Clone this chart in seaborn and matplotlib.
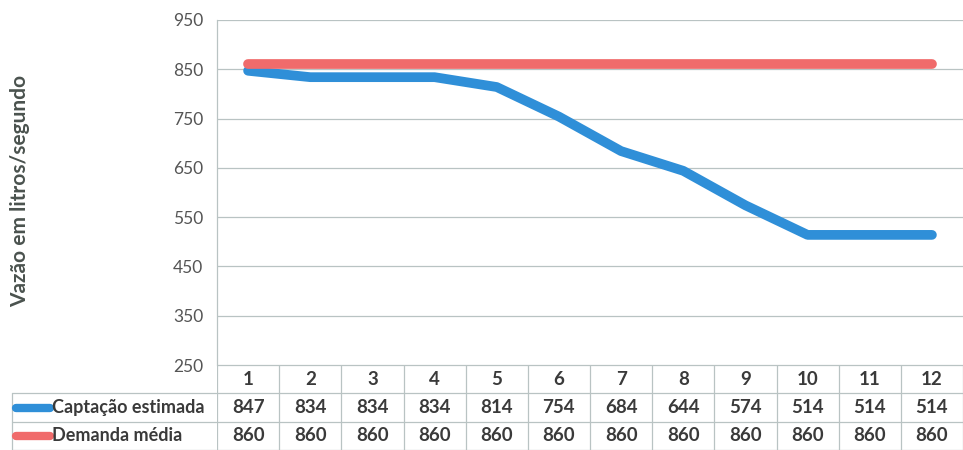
import seaborn as sns
import matplotlib.pyplot as plt
import pandas as pd

meses = [1, 2, 3, 4, 5, 6, 7, 8, 9, 10, 11, 12]
captacao = [847, 834, 834, 834, 814, 754, 684, 644, 574, 514, 514, 514]
demanda = [860, 860, 860, 860, 860, 860, 860, 860, 860, 860, 860, 860]
series_names = ['Captação estimada', 'Demanda média']
yticks = [250, 350, 450, 550, 650, 750, 850, 950]

sns.set_style('white')
plt.rcParams['font.family'] = ['Lato', 'DejaVu Sans']

blue = '#2f8fd8'
red = '#f06b6b'
grid_c = '#b9c3c3'
text_c = '#3a3a3a'

df = pd.DataFrame({'mes': meses * 2,
                   'valor': captacao + demanda,
                   'serie': [series_names[0]] * 12 + [series_names[1]] * 12})

fig = plt.figure(figsize=(9.63, 4.5), dpi=100)
ax = fig.add_axes([217 / 963, 85 / 450, 746 / 963, 345 / 450])

for y in yticks:
    ax.axhline(y, color=grid_c, lw=0.9, zorder=0)

sns.lineplot(data=df, x='mes', y='valor', hue='serie',
             palette=[blue, red], linewidth=7, legend=False, ax=ax,
             solid_capstyle='round')

ax.set_xlim(0.5, 12.5)
ax.set_ylim(250, 950)
ax.set_yticks(yticks)
ax.set_xticks([])
ax.set_xlabel('')
ax.set_ylabel('')
ax.tick_params(axis='y', length=0, labelsize=12.5, labelcolor='#555555', pad=10)
for s in ['top', 'right', 'bottom']:
    ax.spines[s].set_visible(False)
ax.spines['left'].set_color(grid_c)
ax.spines['left'].set_linewidth(0.9)

fig.text(20 / 963, 0.575, 'Vazão em litros/segundo', rotation=90,
         ha='center', va='center', fontsize=15, fontweight='bold', color='#4a524e')

## data table under the chart
at = fig.add_axes([217 / 963, 0, 746 / 963, 85 / 450])
at.set_xlim(0.5, 12.5)
at.set_ylim(3, 0)
at.axis('off')

left_frac = (12 - 217) / 746
for k in range(13):
    at.plot([0.5 + k, 0.5 + k], [0, 3], color=grid_c, lw=0.9)
at.plot([0.5, 12.5], [0, 0], color=grid_c, lw=0.9)
for yy in [1, 2, 3]:
    at.plot([left_frac, 1], [1 - yy / 3, 1 - yy / 3], color=grid_c, lw=0.9,
            transform=at.transAxes, clip_on=False)
at.plot([left_frac, left_frac], [0, 2 / 3], color=grid_c, lw=0.9,
        transform=at.transAxes, clip_on=False)

for m in meses:
    at.text(m, 0.5, str(m), ha='center', va='center', fontsize=13.5,
            fontweight='bold', color=text_c)
for row, (vals, name, col) in enumerate(zip([captacao, demanda], series_names, [blue, red])):
    ry = row + 1.5
    for m, v in zip(meses, vals):
        at.text(m, ry, str(v), ha='center', va='center', fontsize=13.5,
                fontweight='bold', color=text_c)
    yfrac = 1 - ry / 3
    at.plot([(16 - 217) / 746, (50 - 217) / 746], [yfrac, yfrac], color=col, lw=6,
            solid_capstyle='round', transform=at.transAxes, clip_on=False)
    at.text((52 - 217) / 746, yfrac, name, ha='left', va='center', fontsize=13,
            fontweight='bold', color=text_c, transform=at.transAxes)

fig.savefig('out.png', dpi=100)
